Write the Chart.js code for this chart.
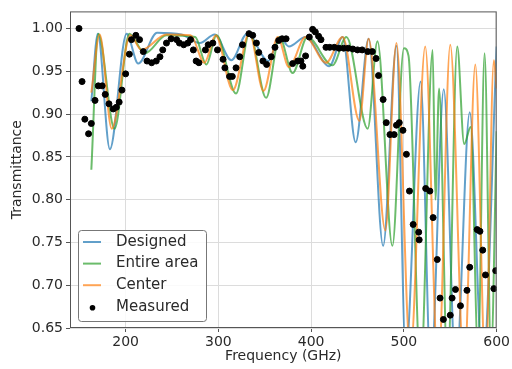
<!DOCTYPE html>
<html>
<head>
<meta charset="utf-8">
<script src="https://cdn.jsdelivr.net/npm/chart.js@4"></script>
<style>
  body { margin: 0; background: #fff; }
  canvas { display: block; }
</style>
</head>
<body>
<canvas id="chart" width="512" height="369"></canvas>
<script>
// tick labels
const xTicks = [200, 300, 400, 500, 600];
const yTicks = [0.65, 0.70, 0.75, 0.80, 0.85, 0.90, 0.95, 1.00];

// Designed (simulation) - turning points
const designedFreq = [163, 170, 183, 201, 213.5, 234, 260, 280, 296, 314, 331, 354, 366, 376, 394, 419.6, 434, 448, 462, 477.6, 492, 502, 518, 529, 543, 556, 571, 585, 600];
const designedVal = [0.915, 0.994, 0.859, 0.994, 0.959, 0.995, 0.993, 0.983, 0.993, 0.963, 0.994, 0.962, 0.990, 0.979, 0.990, 0.956, 0.990, 0.867, 0.988, 0.746, 0.980, 0.62, 0.938, 0.60, 0.929, 0.60, 0.902, 0.60, 0.979];

// Entire area
const entireFreq = [163, 170.5, 188, 204, 220.6, 244, 275, 287, 298, 319, 333.5, 351.5, 366, 380, 396, 423, 438, 461, 471.5, 487.6, 500, 505, 518, 531, 534, 538, 547, 557.5, 565, 572, 580, 587, 594, 600];
const entireVal = [0.835, 0.994, 0.883, 0.994, 0.971, 0.992, 0.990, 0.958, 0.992, 0.924, 0.995, 0.919, 0.990, 0.948, 0.990, 0.957, 0.990, 0.883, 0.985, 0.746, 0.977, 0.968, 0.60, 0.975, 0.80, 0.930, 0.60, 0.979, 0.865, 0.885, 0.62, 0.971, 0.62, 0.88];

// Center
const centerFreq = [163, 172, 185, 205, 217, 244, 270, 285, 297, 315.6, 333.5, 348.6, 364, 376, 394, 416, 434, 452, 462, 480, 492, 507, 523, 537, 550, 565, 577, 588, 597, 600];
const centerVal = [0.925, 0.993, 0.883, 0.992, 0.975, 0.993, 0.992, 0.960, 0.992, 0.928, 0.995, 0.927, 0.990, 0.955, 0.990, 0.960, 0.990, 0.892, 0.988, 0.764, 0.983, 0.62, 0.979, 0.60, 0.981, 0.60, 0.958, 0.60, 0.963, 0.93];

// Measured
const measuredFreq = [149.7, 153, 156, 160, 163, 167, 170.5, 174.7, 178, 182, 186.6, 190, 193, 196, 200, 204, 206.3, 211, 215, 219, 223, 228, 233, 237, 240, 244, 249, 255, 258, 262.6, 267, 270, 273, 276, 279, 286, 289, 294, 299, 305, 307, 312, 315, 319, 323, 326, 333, 337, 341, 343.5, 348, 352, 357, 361, 365, 368.7, 373, 380, 385.5, 389, 391, 394, 398, 401.6, 404.5, 408, 410.6, 416, 420, 425, 430, 435, 440, 445, 450, 455, 461, 466, 470, 472.6, 477.6, 481, 485, 489.5, 492, 495, 499, 502.7, 506, 510, 516, 516.5, 523.5, 528, 531.5, 536, 539, 542.6, 550, 552, 555.6, 561, 568, 571, 579, 582, 585, 588, 597, 599];
const measuredVal = [1.000, 0.938, 0.894, 0.877, 0.889, 0.916, 0.933, 0.933, 0.923, 0.912, 0.906, 0.908, 0.914, 0.928, 0.947, 0.970, 0.987, 0.992, 0.987, 0.973, 0.962, 0.960, 0.962, 0.967, 0.975, 0.983, 0.988, 0.987, 0.983, 0.981, 0.983, 0.987, 0.975, 0.962, 0.960, 0.975, 0.981, 0.983, 0.975, 0.964, 0.954, 0.944, 0.944, 0.954, 0.967, 0.981, 0.994, 0.992, 0.983, 0.972, 0.962, 0.958, 0.967, 0.978, 0.986, 0.988, 0.988, 0.959, 0.962, 0.962, 0.956, 0.968, 0.990, 0.999, 0.996, 0.991, 0.987, 0.978, 0.978, 0.978, 0.977, 0.977, 0.977, 0.976, 0.975, 0.975, 0.973, 0.973, 0.965, 0.945, 0.917, 0.890, 0.876, 0.876, 0.887, 0.890, 0.881, 0.853, 0.810, 0.771, 0.762, 0.753, 0.813, 0.810, 0.779, 0.730, 0.685, 0.660, 0.665, 0.685, 0.695, 0.676, 0.694, 0.721, 0.765, 0.763, 0.741, 0.712, 0.696, 0.717];

const toPoints = (xs, ys) => xs.map((x, i) => ({ x: x, y: ys[i] }));

const FONT = "'DejaVu Sans', sans-serif";
const TEXT = "#2a2a2a";

const lineSet = (label, xs, ys, color, order) => ({
  type: "line",
  label: label,
  data: toPoints(xs, ys),
  borderColor: color,
  borderWidth: 2,
  pointRadius: 0,
  cubicInterpolationMode: "monotone",
  clip: 0,
  order: order,
});

// legend drawn inside the plot, bottom left, like the original figure
const innerLegend = {
  id: "innerLegend",
  afterDraw(chart) {
    const ctx = chart.ctx;
    const box = { x: 78.5, y: 230.5, w: 128, h: 91 };
    ctx.save();
    ctx.fillStyle = "rgba(255,255,255,0.85)";
    ctx.strokeStyle = "#777";
    ctx.lineWidth = 1;
    ctx.beginPath();
    ctx.roundRect(box.x, box.y, box.w, box.h, 3);
    ctx.fill();
    ctx.stroke();
    ctx.font = "15px " + FONT;
    ctx.textBaseline = "middle";
    const sets = chart.data.datasets;
    [0, 1, 2, 3].forEach((r) => {
      const ds = sets[r];
      const cy = 242 + r * 21.6;
      if (ds.type === "scatter") {
        ctx.fillStyle = "#000";
        ctx.beginPath();
        ctx.arc(92.5, cy + 1, 2.8, 0, Math.PI * 2);
        ctx.fill();
      } else {
        ctx.strokeStyle = ds.borderColor;
        ctx.lineWidth = 2;
        ctx.beginPath();
        ctx.moveTo(83, cy);
        ctx.lineTo(101, cy);
        ctx.stroke();
      }
      ctx.fillStyle = TEXT;
      ctx.fillText(ds.label, 116, cy);
    });
    // axes frame
    const a = chart.chartArea;
    ctx.strokeStyle = "#555";
    ctx.lineWidth = 1;
    ctx.strokeRect(a.left + 0.5, a.top + 0.5, a.right - a.left - 1, a.bottom - a.top - 1);
    ctx.restore();
  },
};

new Chart(document.getElementById("chart"), {
  data: {
    datasets: [
      lineSet("Designed", designedFreq, designedVal, "rgba(31,119,180,0.7)", 4),
      lineSet("Entire area", entireFreq, entireVal, "rgba(44,160,44,0.7)", 3),
      lineSet("Center", centerFreq, centerVal, "rgba(255,127,14,0.7)", 2),
      {
        type: "scatter",
        label: "Measured",
        data: toPoints(measuredFreq, measuredVal),
        backgroundColor: "#000",
        borderColor: "#000",
        pointRadius: 3,
        clip: 0,
        order: 1,
      },
    ],
  },
  options: {
    responsive: false,
    animation: false,
    layout: { padding: { left: 0, right: 14, top: 8, bottom: 0 } },
    plugins: { legend: { display: false }, tooltip: { enabled: false } },
    scales: {
      x: {
        type: "linear",
        min: 140,
        max: 600,
        afterFit: (s) => { s.height = 41; },
        afterBuildTicks: (s) => { s.ticks = xTicks.map((v) => ({ value: v })); },
        grid: { color: "#dcdcdc", tickLength: 4, tickColor: "#555" },
        border: { display: false },
        ticks: { color: TEXT, font: { family: FONT, size: 14 }, padding: 2, maxRotation: 0 },
        title: { display: true, text: "Frequency (GHz)", color: TEXT, font: { family: FONT, size: 14 }, padding: { top: 0, bottom: 4 } },
      },
      y: {
        type: "linear",
        min: 0.65,
        max: 1.02,
        afterFit: (s) => { s.width = 70; },
        afterBuildTicks: (s) => { s.ticks = yTicks.map((v) => ({ value: v })); },
        grid: { color: "#dcdcdc", tickLength: 4, tickColor: "#555" },
        border: { display: false },
        ticks: { color: TEXT, font: { family: FONT, size: 14 }, padding: 3, callback: (v) => v.toFixed(2) },
        title: { display: true, text: "Transmittance", color: TEXT, font: { family: FONT, size: 14 }, padding: { top: 9, bottom: 9 } },
      },
    },
  },
  plugins: [innerLegend],
});
</script>
</body>
</html>
